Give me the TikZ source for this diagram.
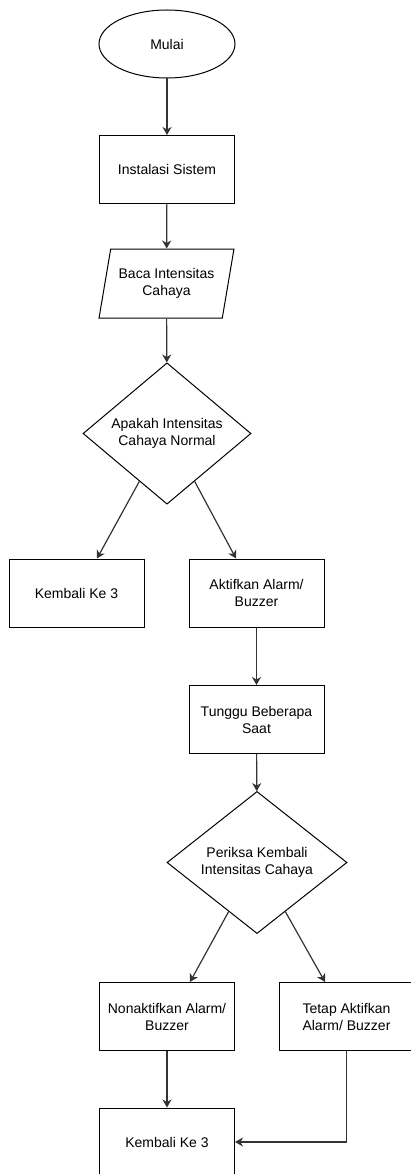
\documentclass[tikz,border=0pt]{standalone}
\usepackage{fontspec}
\setmainfont{Liberation Sans}
\usetikzlibrary{shapes,arrows.meta,positioning,calc}
\definecolor{garis}{HTML}{333333}

\begin{document}
\begin{tikzpicture}[x=1pt,y=-1pt,font=\fontsize{14}{17}\selectfont,
  mulai/.style={draw,ellipse,line width=1pt,minimum width=136,minimum height=68,inner sep=0},
  proses/.style={draw,rectangle,line width=1pt,minimum width=135,minimum height=68,align=center,inner sep=0},
  data/.style={draw,trapezium,trapezium left angle=71.6,trapezium right angle=108.4,trapezium stretches=true,line width=1pt,minimum width=135,minimum height=69,align=center,inner sep=0},
  keputusan/.style={draw,diamond,line width=1pt,align=center,inner sep=0},
  panah/.style={draw=garis,line width=1.2pt,-{Stealth[length=8pt,width=9pt,inset=2.5pt]}}]
  \useasboundingbox (0,0) rectangle (410,1174);
        \node [mulai] (mulai) at (167,44) {Mulai};
        \node [proses] (instal) at (167,169.5) {Instalasi Sistem};
        \node [data] (baca) at (166.5,283.5) {Baca Intensitas\\Cahaya};
        \node [keputusan,minimum width=168,minimum height=115] (cek) at (167,433.5) {Apakah Intensitas\\Cahaya Normal};
        \node [proses] (kembali) at (76.5,593) {Kembali Ke 3};
        \node [proses] (aktif) at (256.5,593) {Aktifkan Alarm/\\Buzzer};
        \node [proses] (tunggu) at (256.5,719.5) {Tunggu Beberapa\\Saat};
        \node [keputusan,minimum width=180,minimum height=125] (periksa) at (257,862.5) {Periksa Kembali\\Intensitas Cahaya};
        \node [proses] (nonaktif) at (167,1016.5) {Nonaktifkan Alarm/\\Buzzer};
        \node [proses] (tetap) at (346.5,1016.5) {Tetap Aktifkan\\Alarm/ Buzzer};
        \node [proses] (kembalib) at (167,1142) {Kembali Ke 3};

        \draw [panah] (mulai) -- (instal);
        \draw [panah] (instal) -- (baca);
        \draw [panah] (baca) -- (cek);
        \draw [panah] (cek.240) -- ($(kembali.north)+(20.5,0)$);
        \draw [panah] (cek.300) -- ($(aktif.north)+(-20.5,0)$);
        \draw [panah] (aktif) -- (tunggu);
        \draw [panah] (tunggu) -- (periksa);
        \draw [panah] (periksa.240) -- ($(nonaktif.north)+(23,0)$);
        \draw [panah] (periksa.300) -- ($(tetap.north)+(-21.5,0)$);
        \draw [panah] (nonaktif) -- (kembalib);
        \draw [panah] (tetap.south) |- (kembalib.east);
\end{tikzpicture}
\end{document}
